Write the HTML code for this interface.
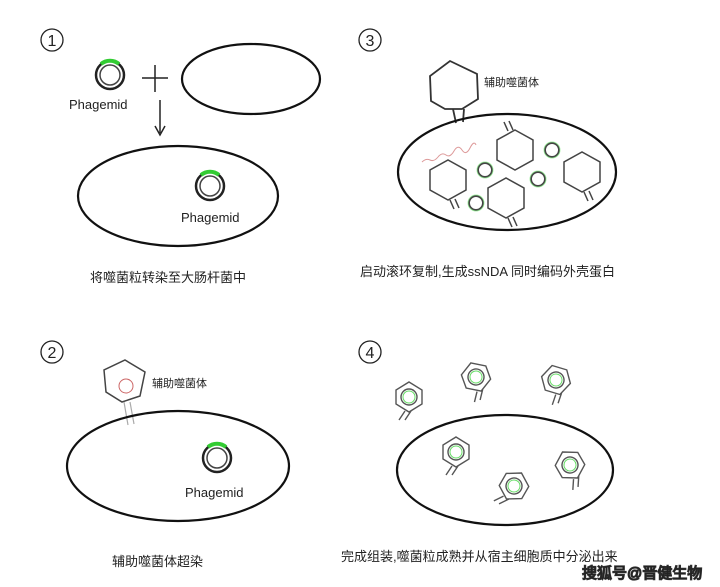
<!DOCTYPE html>
<html><head><meta charset="utf-8"><style>
body{margin:0;background:#fff}
svg{display:block}
text{font-family:"Liberation Sans","Noto Sans CJK SC",sans-serif;fill:#222}
</style></head><body>
<svg width="720" height="587" viewBox="0 0 720 587" xmlns="http://www.w3.org/2000/svg">
<defs>
<g id="pl"><circle r="14" fill="none" stroke="#222" stroke-width="2.5"/><circle r="10" fill="none" stroke="#444" stroke-width="1.5"/><path d="M-9,-11 A14,14 0 0 1 9,-11" stroke="#3c3" stroke-width="4" fill="none"/></g>
<g id="sp" stroke="#555" stroke-width="1.4" fill="none"><polygon points="0,-15 13,-7 13,7 0,15 -13,7 -13,-7"/><circle r="8"/><circle r="6" stroke="#6d6" stroke-width="1"/><path d="M-4,14 L-10,23 M2,14 L-4,23"/></g>
<g id="hx" stroke="#444" stroke-width="1.5" fill="none"><polygon points="0,-20 18,-10 18,10 0,20 -18,10 -18,-10"/><path d="M-7,-19 L-11,-28 M-2,-20 L-6,-29"/></g>
<g id="gc"><circle r="7" fill="none" stroke="#444" stroke-width="2"/><circle r="8" fill="none" stroke="#8e8" stroke-width="1" opacity=".7"/></g>
</defs>
<!-- panel 1 -->
<circle cx="52" cy="40" r="11" fill="none" stroke="#222" stroke-width="1.3"/><text x="52" y="46" font-size="16" text-anchor="middle">1</text>
<use href="#pl" x="110" y="75"/>
<text x="69" y="109" font-size="13">Phagemid</text>
<path d="M155,65 V92 M142,78 H168" stroke="#222" stroke-width="1.5"/>
<ellipse cx="251" cy="79" rx="69" ry="35" fill="none" stroke="#111" stroke-width="2.2"/>
<path d="M160,100 V133" stroke="#222" stroke-width="1.5"/><path d="M155,126 L160,135 L165,126" fill="none" stroke="#222" stroke-width="1.5"/>
<ellipse cx="178" cy="196" rx="100" ry="50" fill="none" stroke="#111" stroke-width="2.2"/>
<use href="#pl" x="210" y="186"/>
<text x="181" y="222" font-size="13">Phagemid</text>
<text x="90" y="282" font-size="13">将噬菌粒转染至大肠杆菌中</text>
<!-- panel 3 -->
<circle cx="370" cy="40" r="11" fill="none" stroke="#222" stroke-width="1.3"/><text x="370" y="46" font-size="16" text-anchor="middle">3</text>
<polygon points="450,61 477,74 478,99 462,109 445,109 431,101 430,76" fill="none" stroke="#333" stroke-width="1.8"/>
<path d="M453,109 L456,123 M464,109 L463,122" stroke="#333" stroke-width="1.8" fill="none"/>
<text x="484" y="86" font-size="11">辅助噬菌体</text>
<ellipse cx="507" cy="172" rx="109" ry="58" fill="none" stroke="#111" stroke-width="2.2"/>
<path d="M422,162 q4,-4 8,-2 t8,-3 t8,-2 t8,-4 t8,-1 t8,-2 t6,-3" stroke="#d99" stroke-width="1" fill="none"/>
<use href="#hx" x="515" y="150"/><use href="#hx" x="448" y="180" transform="rotate(180 448 180)"/>
<use href="#hx" x="582" y="172" transform="rotate(180 582 172)"/><use href="#hx" x="506" y="198" transform="rotate(180 506 198)"/>
<use href="#gc" x="485" y="170"/><use href="#gc" x="552" y="150"/><use href="#gc" x="538" y="179"/><use href="#gc" x="476" y="203"/>
<text x="360" y="276" font-size="13">启动滚环复制,生成ssNDA 同时编码外壳蛋白</text>
<!-- panel 2 -->
<circle cx="52" cy="352" r="11" fill="none" stroke="#222" stroke-width="1.3"/><text x="52" y="358" font-size="16" text-anchor="middle">2</text>
<polygon points="125,360 145,372 140,396 122,402 106,392 104,370" fill="none" stroke="#444" stroke-width="1.5"/>
<circle cx="126" cy="386" r="7" fill="none" stroke="#c66" stroke-width="1"/>
<path d="M124,402 L128,425 M130,402 L134,424" stroke="#aaa" stroke-width="1.2"/>
<text x="152" y="387" font-size="11">辅助噬菌体</text>
<ellipse cx="178" cy="466" rx="111" ry="55" fill="none" stroke="#111" stroke-width="2.2"/>
<use href="#pl" x="217" y="458"/>
<text x="185" y="497" font-size="13">Phagemid</text>
<text x="112" y="566" font-size="13">辅助噬菌体超染</text>
<!-- panel 4 -->
<circle cx="370" cy="352" r="11" fill="none" stroke="#222" stroke-width="1.3"/><text x="370" y="358" font-size="16" text-anchor="middle">4</text>
<ellipse cx="505" cy="470" rx="108" ry="55" fill="none" stroke="#111" stroke-width="2.2"/>
<use href="#sp" x="409" y="397"/><use href="#sp" x="476" y="377" transform="rotate(-20 476 377)"/>
<use href="#sp" x="556" y="380" transform="rotate(-15 556 380)"/><use href="#sp" x="456" y="452"/>
<use href="#sp" x="570" y="465" transform="rotate(-30 570 465)"/><use href="#sp" x="514" y="486" transform="rotate(30 514 486)"/>
<text x="341" y="561" font-size="13">完成组装,噬菌粒成熟并从宿主细胞质中分泌出来</text>
<text x="582" y="578" font-size="15" fill="#fff" stroke="#333" stroke-width="1.3" paint-order="stroke">搜狐号@晋健生物</text>
</svg>
</body></html>
